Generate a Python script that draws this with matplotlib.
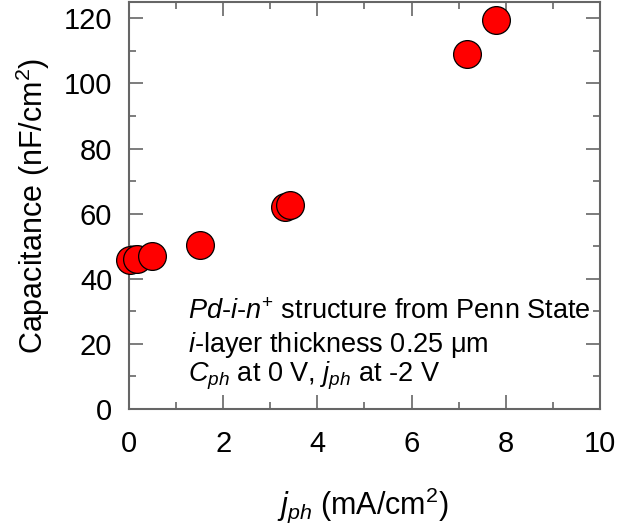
import matplotlib
matplotlib.use('Agg')
import matplotlib.pyplot as plt
from matplotlib.ticker import MultipleLocator

plt.rcParams['font.family'] = ['Liberation Sans', 'DejaVu Sans']
plt.rcParams['mathtext.fontset'] = 'custom'
plt.rcParams['mathtext.rm'] = 'Liberation Sans'
plt.rcParams['mathtext.it'] = 'Liberation Sans:italic'

# photocurrent density (mA/cm2) and capacitance (nF/cm2)
j_ph = [0.03, 0.16, 0.48, 1.51, 3.31, 3.42, 7.18, 7.79]
cap = [45.8, 46.2, 47.0, 50.3, 62.0, 62.6, 109.1, 119.5]

fig = plt.figure(figsize=(6.19, 5.29), dpi=100)
ax = fig.add_axes([0.2084, 0.2268, 0.7609, 0.7694])

ax.scatter(j_ph, cap, s=400, c='#ff0000', edgecolors='black', linewidths=0.9,
           zorder=3, clip_on=False)

ax.set_xlim(0, 10)
ax.set_ylim(0, 125)
ax.xaxis.set_major_locator(MultipleLocator(2))
ax.xaxis.set_minor_locator(MultipleLocator(1))
ax.yaxis.set_major_locator(MultipleLocator(20))
ax.yaxis.set_minor_locator(MultipleLocator(10))

gray = '#666666'
for s in ax.spines.values():
    s.set_color(gray)
    s.set_linewidth(1.5)
ax.tick_params(which='both', direction='in', top=True, right=True,
               color=gray, width=1.2, labelsize=21, labelcolor='black')
ax.tick_params(which='major', length=10)
ax.tick_params(which='minor', length=5)
ax.tick_params(axis='x', which='major', pad=15)
ax.tick_params(axis='y', which='major', pad=12)

ax.set_xlabel(r'$j_{ph}$ (mA/cm$^2$)', fontsize=22, va='center')
ax.xaxis.set_label_coords(0.497, -0.236)
ax.set_ylabel(r'Capacitance (nF/cm$^2$)', fontsize=22, va='center')
ax.yaxis.set_label_coords(-0.204, 0.5)

ax.text(1.25, 27.6, r'$Pd$-$i$-$n^{+}$ structure from Penn State', fontsize=19.5)
ax.text(1.25, 17.6, r'$i$-layer thickness 0.25 μm', fontsize=19.5)
ax.text(1.25, 8.4, r'$C_{ph}$ at 0 V, $j_{ph}$ at -2 V', fontsize=19.5)

fig.savefig('out.png', dpi=100)
